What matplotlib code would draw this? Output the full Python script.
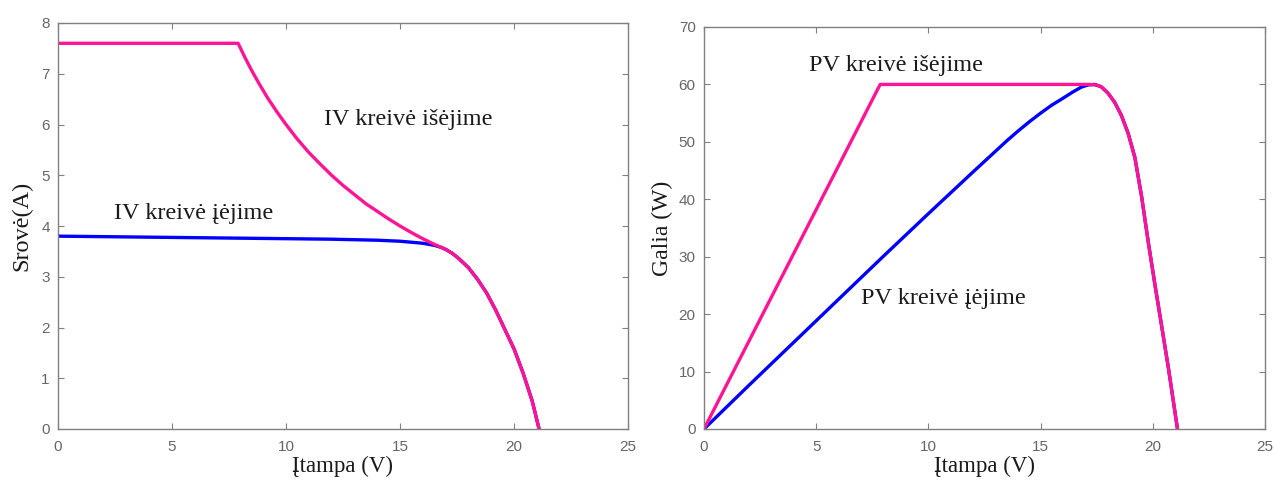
import matplotlib
matplotlib.use("Agg")
import matplotlib.pyplot as plt

# ---- data ----
# input IV curve (blue)
iv_in_v = [0, 2, 4, 6, 8, 10, 12, 14, 15, 16, 16.5, 16.8, 17.0, 17.3, 17.6, 18.0, 18.4, 18.8, 19.2, 19.6, 20.0, 20.4, 20.8, 21.1]
iv_in_i = [3.80, 3.79, 3.78, 3.77, 3.76, 3.75, 3.74, 3.72, 3.70, 3.66, 3.62, 3.58, 3.54, 3.46, 3.35, 3.18, 2.95, 2.68, 2.34, 1.96, 1.58, 1.10, 0.55, 0.0]
# output IV curve (pink)
iv_out_v = [0, 7.9, 8.2, 8.5, 8.8, 9.2, 9.6, 10, 10.5, 11, 11.5, 12, 12.5, 13, 13.5, 14, 14.5, 15, 15.5, 16, 16.5, 16.8,
            17.0, 17.3, 17.6, 18.0, 18.4, 18.8, 19.2, 19.6, 20.0, 20.4, 20.8, 21.1]
iv_out_i = [7.6, 7.6, 7.32, 7.06, 6.82, 6.52, 6.25, 6.0, 5.71, 5.45, 5.22, 5.0, 4.80, 4.62, 4.44, 4.29, 4.14, 4.0, 3.87, 3.75, 3.64, 3.58,
            3.54, 3.46, 3.35, 3.18, 2.95, 2.68, 2.34, 1.96, 1.58, 1.10, 0.55, 0.0]
# input PV curve (blue)
pv_in_v = [0, 2, 4, 6, 8, 10, 12, 12.5, 13, 13.5, 14, 14.5, 15, 15.5, 16, 16.4, 16.8, 17.1, 17.4,
           17.7, 18.0, 18.3, 18.6, 18.9, 19.2, 19.5, 19.8, 20.1, 20.4, 20.7, 21.1]
pv_in_p = [0, 7.6, 15.1, 22.6, 30.1, 37.5, 44.8, 46.6, 48.4, 50.2, 51.9, 53.5, 55.0, 56.4, 57.6, 58.6, 59.5, 59.9, 60.0,
           59.6, 58.5, 56.9, 54.6, 51.5, 47.3, 40.5, 32.5, 25.0, 17.8, 10.5, 0]
# output PV curve (pink)
pv_out_v = [0, 7.85, 17.2, 17.5, 17.7, 18.0, 18.3, 18.6, 18.9, 19.2, 19.5, 19.8, 20.1, 20.4, 20.7, 21.1]
pv_out_p = [0, 60.0, 60.0, 59.9, 59.6, 58.5, 56.9, 54.6, 51.5, 47.3, 40.5, 32.5, 25.0, 17.8, 10.5, 0]

x_ticks = [0, 5, 10, 15, 20, 25]
iv_ticks = [0, 1, 2, 3, 4, 5, 6, 7, 8]
pv_ticks = [0, 10, 20, 30, 40, 50, 60, 70]

PINK = "#ff1493"
BLUE = "#0000ff"
SERIF = ["Liberation Serif", "DejaVu Serif"]
SANS = ["Liberation Sans", "DejaVu Sans"]
LBL = "#1a1a1a"

fig = plt.figure(figsize=(12.75, 4.84), dpi=100)
ax1 = fig.add_axes([58/1275, 1-429/484, 570/1275, 406/484])
ax2 = fig.add_axes([704/1275, 1-429/484, 561/1275, 402/484])

def style(ax, yticks, ylim):
    ax.set_xlim(0, 25)
    ax.set_ylim(*ylim)
    ax.set_xticks(x_ticks)
    ax.set_yticks(yticks)
    ax.tick_params(direction="in", top=True, right=True, length=4, width=0.8,
                   color="#808080", labelcolor="#666666", labelsize=11)
    ax.tick_params(axis="x", pad=8)
    ax.tick_params(axis="y", pad=6)
    for lab in ax.get_xticklabels() + ax.get_yticklabels():
        lab.set_family(SANS)
    for s in ax.spines.values():
        s.set_color("#808080")
        s.set_linewidth(1.0)

ax1.plot(iv_in_v, iv_in_i, color=BLUE, lw=2.4, solid_joinstyle="round")
ax1.plot(iv_out_v, iv_out_i, color=PINK, lw=2.4, solid_joinstyle="round")
style(ax1, iv_ticks, (0, 8))
ax1.set_xlabel("Įtampa (V)", fontsize=16.5, family=SERIF, color=LBL, labelpad=1)
ax1.set_ylabel("Srovė(A)", fontsize=17.5, family=SERIF, color=LBL, labelpad=6)
ax1.text(11.65, 6.1, "IV kreivė išėjime", fontsize=17.5, family=SERIF, color=LBL, va="center")
ax1.text(2.45, 4.25, "IV kreivė įėjime", fontsize=17.5, family=SERIF, color=LBL, va="center")

ax2.plot(pv_in_v, pv_in_p, color=BLUE, lw=2.4, solid_joinstyle="round")
ax2.plot(pv_out_v, pv_out_p, color=PINK, lw=2.4, solid_joinstyle="round")
style(ax2, pv_ticks, (0, 70))
ax2.set_xlabel("Įtampa (V)", fontsize=16.5, family=SERIF, color=LBL, labelpad=1)
ax2.set_ylabel("Galia (W)", fontsize=17, family=SERIF, color=LBL, labelpad=4)
ax2.text(4.7, 63.3, "PV kreivė išėjime", fontsize=17.5, family=SERIF, color=LBL, va="center")
ax2.text(7.0, 22.8, "PV kreivė įėjime", fontsize=17.5, family=SERIF, color=LBL, va="center")

fig.savefig("out.png", dpi=100)
